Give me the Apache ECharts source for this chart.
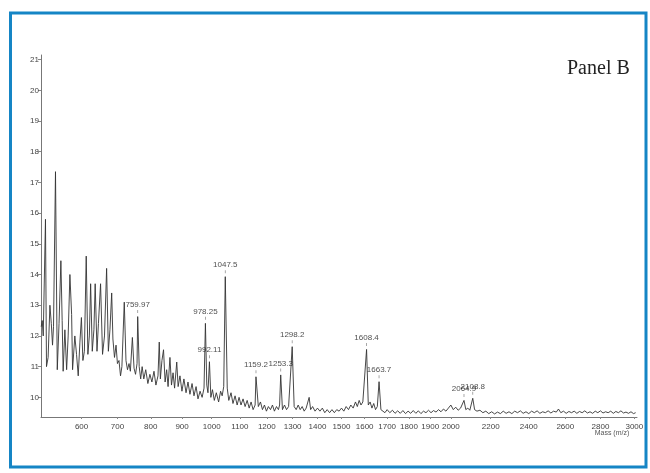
<!DOCTYPE html>
<html>
<head>
<meta charset="utf-8">
<title>Panel B</title>
<script src="https://cdn.jsdelivr.net/npm/echarts@6.0.0/dist/echarts.min.js"></script>
<style>
  html, body { margin: 0; padding: 0; background: #fff; }
  #chart { width: 650px; height: 473px; }
</style>
</head>
<body>
<div id="chart"></div>
<script>
/* MALDI-TOF spectrum, Panel B */

// --- Data ---

// trace: mass (m/z) and intensity
const specMass = [
  496.5, 499, 501.5, 507, 509.5, 513.5, 518, 521.5, 524.5, 527, 532, 536.5, 541, 545.7, 549, 551.5,
  556, 560.5, 564.5, 569, 573.5, 576, 582, 586.5, 591, 595.5, 599.5, 603.5, 607.5, 612.5, 617, 621,
  624.5, 629, 633.5, 637, 642, 646, 652, 657.5, 663, 669, 674, 678.5, 683.5, 687, 691.5, 696,
  700, 704.5, 709, 713, 720, 725, 729.5, 734, 738, 744, 749, 753.5, 758, 759.97, 764.5, 769,
  773.5, 778.5, 784.5, 791, 797.3, 803.5, 810, 816, 822.5, 826.5, 830, 835, 840, 845, 850, 854.5,
  860.5, 865.5, 870.5, 875.5, 882.5, 887, 893, 899.5, 906, 913, 919.5, 926, 933, 939.5, 946.5, 953,
  960, 967, 973.5, 978.25, 983, 987, 992.11, 997, 1002.5, 1009, 1016, 1024, 1031, 1036.5, 1042, 1047.5,
  1054.5, 1060, 1068, 1075, 1082.5, 1090, 1097, 1104, 1111.5, 1119, 1126.5, 1134, 1141, 1148.5, 1156, 1159.2,
  1168, 1176, 1183.5, 1191, 1198.5, 1206, 1214, 1221.5, 1229, 1237, 1244.5, 1249, 1253.3, 1260, 1268, 1276,
  1284, 1291, 1298.2, 1306, 1314, 1322, 1330, 1338, 1346, 1354, 1362, 1366, 1372, 1380, 1390, 1400,
  1410, 1420, 1430, 1440, 1450, 1460, 1470, 1480, 1490, 1500, 1510, 1520, 1530, 1540, 1550, 1560,
  1568, 1576, 1584, 1592, 1600, 1608.4, 1616, 1624, 1632, 1640, 1648, 1656, 1663.7, 1672, 1680, 1690,
  1700, 1712, 1724, 1736, 1748, 1760, 1772, 1784, 1796, 1808, 1820, 1832, 1844, 1856, 1868, 1880,
  1892, 1904, 1916, 1928, 1940, 1952, 1964, 1976, 1988, 2000, 2012, 2024, 2036, 2048, 2056, 2064.9,
  2074, 2084, 2094, 2100, 2108.8, 2118, 2130, 2145, 2160, 2175, 2190, 2205, 2220, 2235, 2250, 2265,
  2280, 2295, 2310, 2325, 2340, 2355, 2370, 2385, 2400, 2415, 2430, 2445, 2460, 2475, 2490, 2505,
  2520, 2535, 2550, 2562, 2575, 2590, 2605, 2620, 2635, 2650, 2665, 2680, 2695, 2710, 2725, 2740,
  2755, 2770, 2785, 2800, 2815, 2830, 2845, 2860, 2875, 2890, 2905, 2920, 2935, 2950, 2965, 2980,
  2995, 3008
];
const specInt = [
  12.3, 12.5, 12.0, 15.8, 11.0, 11.3, 13.0, 12.4, 11.7, 12.3, 17.35, 10.9, 12.4, 14.45, 12.5, 10.85,
  12.2, 10.9, 12.0, 14.0, 12.7, 10.9, 12.0, 11.4, 10.7, 11.8, 12.6, 11.2, 11.5, 14.6, 11.4, 12.0,
  13.7, 11.5, 12.2, 13.7, 11.5, 12.4, 13.7, 11.4, 12.0, 14.2, 11.5, 12.2, 13.4, 11.9, 11.3, 11.7,
  11.1, 11.2, 10.7, 11.0, 13.1, 11.2, 10.9, 11.1, 10.85, 11.95, 10.95, 10.75, 11.1, 12.63, 11.0, 10.6,
  11.0, 10.6, 10.9, 10.45, 10.75, 10.5, 10.85, 10.4, 10.7, 11.8, 10.6, 11.2, 11.55, 10.5, 10.9, 10.35,
  11.3, 10.4, 10.8, 10.3, 11.15, 10.35, 10.7, 10.2, 10.6, 10.15, 10.5, 10.1, 10.45, 10.05, 10.35, 9.95,
  10.2, 10.0, 10.3, 12.41, 10.4, 10.15, 11.16, 10.0, 10.25, 9.9, 10.15, 9.85, 10.2, 10.05, 10.35, 13.93,
  10.3, 9.9, 10.15, 9.8, 10.05, 9.75, 10.0, 9.75, 9.95, 9.7, 9.9, 9.65, 9.85, 9.6, 9.75, 10.67,
  9.7, 9.85, 9.6, 9.75, 9.55, 9.7, 9.6, 9.75, 9.55, 9.7, 9.6, 9.75, 10.73, 9.6, 9.75, 9.6,
  9.7, 9.65, 11.65, 9.7, 9.6, 9.75, 9.6, 9.7, 9.55, 9.65, 9.6, 10.0, 9.6, 9.7, 9.55, 9.65,
  9.55, 9.65, 9.5, 9.6, 9.5, 9.6, 9.5, 9.6, 9.55, 9.65, 9.55, 9.7, 9.6, 9.75, 9.65, 9.85,
  9.7, 9.9, 9.75, 9.85, 9.8, 11.56, 9.75, 9.85, 9.65, 9.8, 9.6, 9.7, 10.51, 9.6, 9.65, 9.5,
  9.6, 9.5, 9.58, 9.48, 9.56, 9.48, 9.57, 9.47, 9.55, 9.48, 9.57, 9.48, 9.56, 9.47, 9.55, 9.5,
  9.58, 9.5, 9.57, 9.52, 9.6, 9.53, 9.62, 9.55, 9.65, 9.75, 9.6, 9.68, 9.58, 9.65, 9.6, 9.9,
  9.6, 9.65, 9.58, 9.62, 9.97, 9.6, 9.55, 9.58, 9.5, 9.55, 9.47, 9.53, 9.46, 9.52, 9.47, 9.55,
  9.48, 9.53, 9.47, 9.55, 9.5, 9.56, 9.48, 9.53, 9.47, 9.55, 9.5, 9.56, 9.48, 9.53, 9.5, 9.56,
  9.49, 9.55, 9.52, 9.62, 9.5, 9.55, 9.48, 9.54, 9.5, 9.55, 9.48, 9.54, 9.5, 9.56, 9.49, 9.53,
  9.48, 9.55, 9.5, 9.56, 9.49, 9.53, 9.5, 9.55, 9.48, 9.54, 9.5, 9.56, 9.49, 9.52, 9.48, 9.53,
  9.47, 9.5
];

// annotated peaks
const peakLabels = ['759.97', '978.25', '992.11', '1047.5', '1159.2', '1253.3', '1298.2', '1608.4', '1663.7', '2064.9', '2108.8'];
const peakMass = [759.97, 978.25, 992.11, 1047.5, 1159.2, 1253.3, 1298.2, 1608.4, 1663.7, 2064.9, 2108.8];
const peakInt = [12.63, 12.41, 11.16, 13.93, 10.67, 10.73, 11.65, 11.56, 10.51, 9.9, 9.97];

// axis ticks
const massTicks = [600, 700, 800, 900, 1000, 1100, 1200, 1300, 1400, 1500, 1600, 1700, 1800, 1900, 2000, 2200, 2400, 2600, 2800, 3000];
const intTicks = [10, 11, 12, 13, 14, 15, 16, 17, 18, 19, 20, 21];

// --- Render ---

// TOF axis: position is linear in flight time, i.e. in sqrt(m/z)
const tof = m => Math.sqrt(m);

const chart = echarts.init(document.getElementById('chart'));
const font = 'Liberation Sans, Arial, sans-serif';

chart.setOption({
    animation: false,
    grid: { left: 41, right: 13, top: 55, bottom: 56 },
    xAxis: {
        type: 'value',
        min: tof(496),
        max: tof(3016),
        axisLine: { lineStyle: { color: '#777', width: 1 } },
        axisTick: { customValues: massTicks.map(tof), length: 2, lineStyle: { color: '#888' } },
        axisLabel: {
            customValues: massTicks.map(tof),
            formatter: v => String(Math.round(v * v)),
            fontFamily: font, fontSize: 8, color: '#444', margin: 6
        },
        splitLine: { show: false }
    },
    yAxis: {
        type: 'value',
        min: 9.36,
        max: 21.15,
        axisLine: { show: true, lineStyle: { color: '#777', width: 1 } },
        axisTick: { show: true, customValues: intTicks, length: 3, lineStyle: { color: '#888' } },
        axisLabel: {
            customValues: intTicks,
            fontFamily: font, fontSize: 8, color: '#444', margin: 2
        },
        splitLine: { show: false }
    },
    series: [
        {
            type: 'line',
            data: specMass.map((m, i) => [tof(m), specInt[i]]),
            showSymbol: false,
            lineStyle: { color: '#333', width: 0.9 },
            z: 2
        },
        {
            type: 'scatter',
            data: peakMass.map((m, i) => [tof(m), peakInt[i]]),
            symbol: 'rect',
            symbolSize: [0.8, 3],
            symbolOffset: [0, -5],
            itemStyle: { color: '#777' },
            label: {
                show: true,
                position: 'top',
                distance: 1,
                formatter: p => peakLabels[p.dataIndex],
                fontFamily: font, fontSize: 8, color: '#222'
            },
            z: 3
        }
    ],
    graphic: [
        {
            type: 'rect',
            shape: { x: 10.5, y: 13, width: 635.5, height: 454 },
            style: { fill: 'none', stroke: '#1585c5', lineWidth: 3 },
            silent: true
        },
        {
            type: 'text',
            x: 567, y: 69,
            style: { text: 'Panel B', font: '20px "Liberation Serif", "Times New Roman", serif', fill: '#222', verticalAlign: 'middle' }
        },
        {
            type: 'text',
            x: 612, y: 433,
            style: { text: 'Mass (m/z)', font: '7px "Liberation Sans", Arial, sans-serif', fill: '#555', align: 'center', verticalAlign: 'middle' }
        }
    ]
});
</script>
</body>
</html>
